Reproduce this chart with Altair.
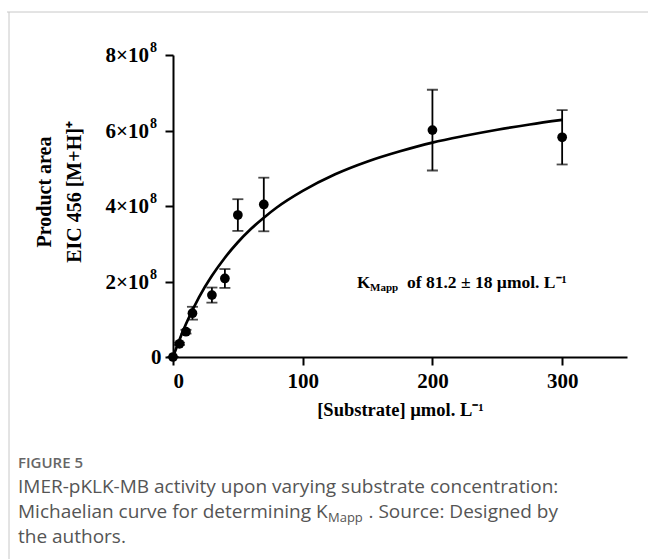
import altair as alt
import pandas as pd

# measured points
substrate = [0, 5, 10, 15, 30, 40, 50, 70, 200, 300]
area = [0.0, 0.35e8, 0.67e8, 1.16e8, 1.64e8, 2.08e8, 3.76e8, 4.04e8, 6.01e8, 5.82e8]
err = [0.0, 0.03e8, 0.05e8, 0.17e8, 0.20e8, 0.25e8, 0.42e8, 0.71e8, 1.07e8, 0.72e8]

# fitted curve
curve_x = [0, 5, 10, 20, 30, 40, 50, 60, 70, 80, 100, 125, 150, 175, 200, 225, 250, 275, 300]
curve_y = [0.0, 0.46e8, 0.875e8, 1.58e8, 2.15e8, 2.63e8, 3.04e8, 3.39e8, 3.69e8, 3.96e8,
           4.40e8, 4.84e8, 5.18e8, 5.45e8, 5.68e8, 5.86e8, 6.02e8, 6.16e8, 6.28e8]

x_ticks = [0, 100, 200, 300]
y_ticks = [2e8, 4e8, 6e8, 8e8]
y_base = ["2×10", "4×10", "6×10", "8×10"]
y_exp = ["8", "8", "8", "8"]

pts = pd.DataFrame({"s": substrate, "a": area,
                    "lo": [a - e for a, e in zip(area, err)],
                    "hi": [a + e for a, e in zip(area, err)]})
cur = pd.DataFrame({"s": curve_x, "a": curve_y})
ylab = pd.DataFrame({"a": y_ticks, "base": y_base, "exp": y_exp})

SERIF = "Liberation Serif"
xs = alt.Scale(domain=[0, 350], nice=False)
ys = alt.Scale(domain=[0, 8e8], nice=False)

xenc = alt.X("s:Q", scale=xs, axis=alt.Axis(
    values=x_ticks, title="[Substrate] µmol. L⁻¹", grid=False,
    labelFont=SERIF, labelFontWeight="bold", labelFontSize=21, labelColor="black",
    labelPadding=5, titleFont=SERIF, titleFontWeight="bold", titleFontSize=18.5,
    titleColor="black", titlePadding=9, domainColor="black", domainWidth=2,
    tickColor="black", tickWidth=2, tickSize=8))
yenc = alt.Y("a:Q", scale=ys, axis=alt.Axis(
    values=[0] + y_ticks, title=None, grid=False,
    labelExpr="datum.value == 0 ? '0' : ''",
    labelFont=SERIF, labelFontWeight="bold", labelFontSize=21, labelColor="black",
    labelPadding=4, domainColor="black", domainWidth=2,
    tickColor="black", tickWidth=2, tickSize=8))

line = alt.Chart(cur).mark_line(color="black", strokeWidth=2.7, interpolate="monotone").encode(
    x=xenc, y=yenc)
bars = alt.Chart(pts).mark_rule(color="black", strokeWidth=1.8).encode(
    x="s:Q", y="lo:Q", y2="hi:Q")
cap_hi = alt.Chart(pts).mark_tick(color="black", thickness=1.8, size=11, orient="horizontal").encode(
    x="s:Q", y="hi:Q")
cap_lo = alt.Chart(pts).mark_tick(color="black", thickness=1.8, size=11, orient="horizontal").encode(
    x="s:Q", y="lo:Q")
dots = alt.Chart(pts).mark_circle(color="black", opacity=1, size=95).encode(
    x="s:Q", y="a:Q")

ylab_base = alt.Chart(ylab).mark_text(
    font=SERIF, fontWeight="bold", fontSize=21, color="black",
    align="right", baseline="middle", dy=1).encode(
    text="base:N", y="a:Q", x=alt.value(-24))
ylab_exp = alt.Chart(ylab).mark_text(
    font=SERIF, fontWeight="bold", fontSize=14, color="black",
    align="left", baseline="middle", dy=-7).encode(
    text="exp:N", y="a:Q", x=alt.value(-23))


def txt(t, x, y, size, font=SERIF, weight="bold", color="black", angle=0,
        align="left", baseline="alphabetic"):
    return alt.Chart(pd.DataFrame({"t": [t]})).mark_text(
        font=font, fontWeight=weight, fontSize=size, color=color, angle=angle,
        align=align, baseline=baseline).encode(
        text="t:N", x=alt.value(x), y=alt.value(y))


SANS = "Open Sans"
CAP = "#555555"
texts = [
    txt("Product area", -128, 137, 20, angle=270, align="center", baseline="middle"),
    txt("EIC 456 [M+H]⁺", -98, 137, 20, angle=270, align="center", baseline="middle"),
    txt("K", 184, 233, 17),
    txt("Mapp", 197, 236, 11),
    txt("of 81.2 ± 18 µmol. L⁻¹", 234, 233, 17.5),
    txt("FIGURE 5", -155, 413, 15, font=SANS, weight=600, color="#666666"),
    txt("IMER-pKLK-MB activity upon varying substrate concentration:", -155, 438, 19,
        font=SANS, weight="normal", color=CAP),
    txt("Michaelian curve for determining K", -155, 463, 19,
        font=SANS, weight="normal", color=CAP),
    txt("Mapp", 155, 467, 13, font=SANS, weight="normal", color=CAP),
    txt(". Source: Designed by", 385, 463, 19, font=SANS, weight="normal", color=CAP,
        align="right"),
    txt("the authors.", -155, 488, 19, font=SANS, weight="normal", color=CAP),
]

frame_top = alt.Chart(pd.DataFrame({"k": [0]})).mark_rule(color="#c8c8c8", strokeWidth=1).encode(
    x=alt.value(-166), x2=alt.value(475), y=alt.value(-43))
frame_left = alt.Chart(pd.DataFrame({"k": [0]})).mark_rule(color="#c8c8c8", strokeWidth=1).encode(
    x=alt.value(-164), y=alt.value(-43), y2=alt.value(504))

chart = alt.layer(frame_top, frame_left, line, bars, cap_hi, cap_lo, dots,
                  ylab_base, ylab_exp, *texts).properties(
    width=454, height=302,
    autosize=alt.AutoSizeParams(type="none"),
    padding={"left": 173, "top": 55, "right": 21, "bottom": 202},
    background="white",
).configure_view(stroke=None)

chart.save("out.html", embed_options={"renderer": "svg", "actions": False})
